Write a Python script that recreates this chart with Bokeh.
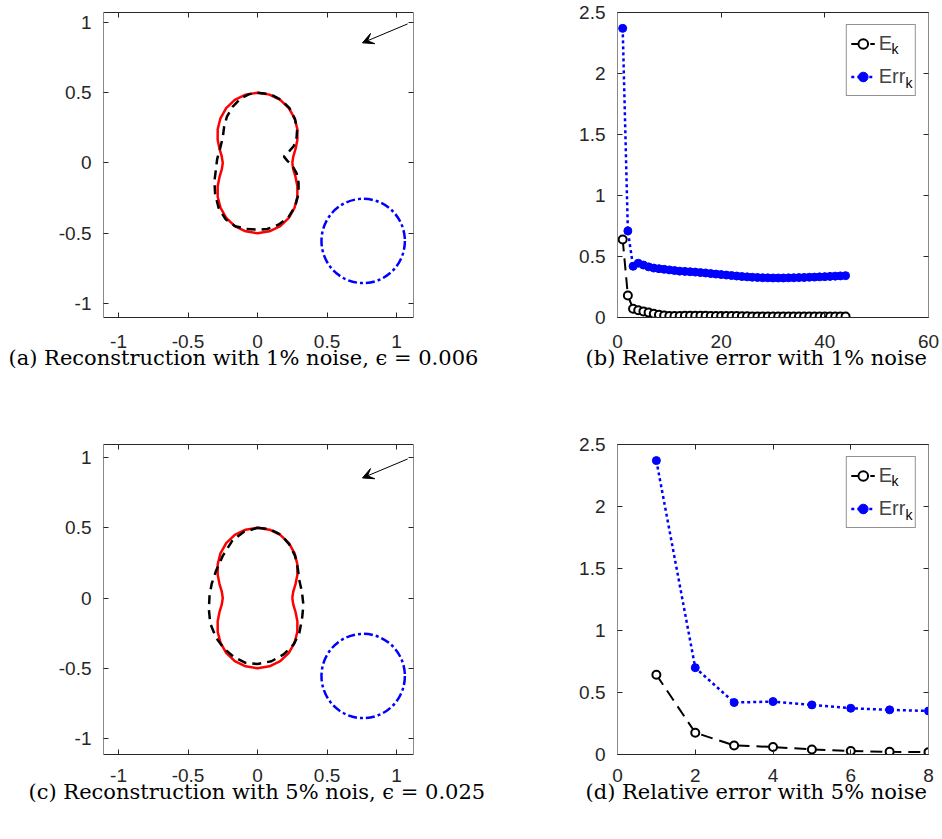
import math
from bokeh.plotting import figure
from bokeh.layouts import column, row
from bokeh.models import (Range1d, FixedTicker, LinearAxis, Arrow, VeeHead,
                          Legend, LegendItem, Label)
from bokeh.embed import file_html
from bokeh.resources import INLINE

# ---------------- data ----------------
# true obstacle (peanut), polar radius every 10 degrees
theta_deg = list(range(0, 360, 10))
true_r = [0.250, 0.261, 0.291, 0.331, 0.374, 0.415, 0.451, 0.478, 0.494, 0.500,
          0.494, 0.478, 0.451, 0.415, 0.374, 0.331, 0.291, 0.261, 0.250,
          0.261, 0.291, 0.331, 0.374, 0.415, 0.451, 0.478, 0.494, 0.500,
          0.494, 0.478, 0.451, 0.415, 0.374, 0.331, 0.291, 0.261]

# reconstruction, 1% noise
recon1_x = [0.00, 0.09, 0.17, 0.23, 0.27, 0.285, 0.28, 0.26, 0.225, 0.19, 0.215, 0.25,
            0.28, 0.295, 0.295, 0.27, 0.22, 0.15, 0.07, 0.00, -0.08, -0.16, -0.23,
            -0.28, -0.305, -0.31, -0.30, -0.29, -0.27, -0.25, -0.24, -0.22, -0.18,
            -0.12, -0.06, 0.00]
recon1_y = [0.50, 0.49, 0.45, 0.39, 0.31, 0.24, 0.17, 0.12, 0.08, 0.045, 0.015, -0.02,
            -0.07, -0.14, -0.22, -0.31, -0.39, -0.44, -0.47, -0.475, -0.47, -0.45,
            -0.40, -0.32, -0.22, -0.13, -0.05, 0.03, 0.10, 0.18, 0.26, 0.33, 0.40,
            0.46, 0.49, 0.50]

# reconstruction, 5% noise
recon5_x = [0.00, 0.09, 0.17, 0.23, 0.27, 0.29, 0.30, 0.32, 0.33, 0.32, 0.30, 0.26,
            0.19, 0.10, 0.00, -0.09, -0.17, -0.24, -0.30, -0.34, -0.35, -0.345, -0.33,
            -0.30, -0.25, -0.18, -0.10, 0.00]
recon5_y = [0.50, 0.49, 0.45, 0.38, 0.30, 0.21, 0.13, 0.04, -0.05, -0.15, -0.25, -0.33,
            -0.40, -0.45, -0.47, -0.46, -0.42, -0.36, -0.28, -0.18, -0.08, 0.02, 0.10,
            0.19, 0.30, 0.41, 0.47, 0.50]

# second (known) circular obstacle
circle_cx = [0.76]
circle_cy = [-0.555]
circle_d = [0.60]

# incident direction arrow (tail -> head)
arrow_tail = [1.08, 0.99]
arrow_head = [0.755, 0.855]

# relative errors, 1% noise
k1 = list(range(1, 45))
E1 = [0.64, 0.18, 0.072, 0.06, 0.05, 0.04, 0.03, 0.022, 0.016, 0.013, 0.013, 0.013,
      0.014, 0.014, 0.014, 0.014, 0.014, 0.013, 0.013, 0.013, 0.012, 0.012, 0.012,
      0.011, 0.011, 0.009, 0.009, 0.009, 0.009, 0.009, 0.008, 0.008, 0.008, 0.008,
      0.008, 0.008, 0.008, 0.008, 0.008, 0.008, 0.008, 0.008, 0.008, 0.008]
Err1 = [2.37, 0.71, 0.42, 0.445, 0.43, 0.415, 0.405, 0.40, 0.395, 0.39, 0.385, 0.38,
        0.378, 0.375, 0.372, 0.368, 0.365, 0.36, 0.356, 0.352, 0.348, 0.344, 0.34,
        0.336, 0.333, 0.33, 0.328, 0.326, 0.325, 0.324, 0.324, 0.324, 0.325, 0.326,
        0.327, 0.328, 0.33, 0.331, 0.333, 0.335, 0.337, 0.339, 0.341, 0.343]

# relative errors, 5% noise
k5 = [1, 2, 3, 4, 5, 6, 7, 8]
E5 = [0.643, 0.176, 0.073, 0.06, 0.041, 0.028, 0.022, 0.019]
Err5 = [2.37, 0.70, 0.419, 0.427, 0.40, 0.373, 0.36, 0.351]

# ticks
xy_ticks = [-1, -0.5, 0, 0.5, 1]
xy_labels = ["-1", "-0.5", "0", "0.5", "1"]
err_yticks = [0, 0.5, 1, 1.5, 2, 2.5]
err_ylabels = ["0", "0.5", "1", "1.5", "2", "2.5"]
k1_ticks = [0, 20, 40, 60]
k1_labels = ["0", "20", "40", "60"]
k5_ticks = [0, 2, 4, 6, 8]
k5_labels = ["0", "2", "4", "6", "8"]

captions = ["(a) Reconstruction with 1% noise, \u03f5 = 0.006",
            "(b) Relative error with 1% noise",
            "(c) Reconstruction with 5% nois, \u03f5 = 0.025",
            "(d) Relative error with 5% noise"]

# ---------------- styling helpers ----------------
TICK_FONT = "Liberation Sans"
CAP_FONT = "DejaVu Serif"


def style(p, xt, xl, yt, yl, xstand):
    p.grid.visible = False
    p.outline_line_color = None
    p.background_fill_color = "white"
    top = LinearAxis()
    rgt = LinearAxis()
    p.add_layout(top, "above")
    p.add_layout(rgt, "right")
    for ax in list(p.xaxis) + list(p.yaxis):
        ax.major_tick_in = 5
        ax.major_tick_out = 0
        ax.minor_tick_line_color = None
        ax.major_tick_line_color = "#262626"
        ax.major_label_text_font = TICK_FONT
        ax.major_label_text_font_size = "19px"
        ax.major_label_text_color = "#262626"
    for ax in p.xaxis:
        ax.ticker = FixedTicker(ticks=xt)
        ax.major_label_overrides = {t: s for t, s in zip(xt, xl)}
        ax.axis_line_color = "#262626"
    for ax in p.yaxis:
        ax.ticker = FixedTicker(ticks=yt)
        ax.major_label_overrides = {t: s for t, s in zip(yt, yl)}
        ax.axis_line_color = "#8a8a8a"
    for ax in (top, rgt):
        ax.major_label_text_font_size = "0px"
        ax.major_label_standoff = 0
    p.below[0].major_label_standoff = xstand
    p.left[0].major_label_standoff = 12
    p.title.align = "left"
    p.title.text_font = CAP_FONT
    p.title.text_font_size = "21px"
    p.title.text_font_style = "normal"
    p.title.text_color = "black"


def cap_panel(caption, width, height, lb, rb, tb, bb, xr, yr, offset, standoff):
    p = figure(width=width, height=height, x_range=xr, y_range=yr,
               min_border_left=lb, min_border_right=rb, min_border_top=tb,
               min_border_bottom=bb, output_backend="svg", toolbar_location=None,
               title=caption, title_location="below")
    p.title.offset = offset
    p.title.standoff = standoff
    return p


def shape_panel(p, rx, ry, xstand):
    rr = true_r + true_r[:1]
    tt = theta_deg + [360]
    tx = [r * math.cos(math.radians(t)) for r, t in zip(rr, tt)]
    ty = [r * math.sin(math.radians(t)) for r, t in zip(rr, tt)]
    p.line(tx, ty, line_color="#ff0000", line_width=2.5)
    p.line(rx, ry, line_color="black", line_width=2.5, line_dash="9 6")
    p.ellipse(x=circle_cx, y=circle_cy, width=circle_d, height=circle_d,
              fill_color=None, line_color="#0000ff", line_width=2.5,
              line_dash="9 3 3 3")
    p.add_layout(Arrow(x_start=arrow_tail[0], y_start=arrow_tail[1],
                       x_end=arrow_head[0], y_end=arrow_head[1],
                       line_color="black", line_width=1,
                       end=VeeHead(size=11, fill_color="black", line_color="black",
                                   line_width=1)))
    style(p, xy_ticks, xy_labels, xy_ticks, xy_labels, xstand)


def err_panel(p, k, E, Err, xt, xl, xmax, fw, fh, xstand):
    lE = p.line(k, E, line_color="black", line_width=2, line_dash="12 7")
    sE = p.scatter(k, E, marker="circle", size=8, fill_color="white",
                   line_color="black", line_width=2)
    lR = p.line(k, Err, line_color="#0000ff", line_width=2.5, line_dash="3 3")
    sR = p.scatter(k, Err, marker="circle", size=8, fill_color="#0000ff",
                   line_color="#0000ff")
    leg = Legend(items=[LegendItem(label="E", renderers=[lE, sE]),
                        LegendItem(label="Err ", renderers=[lR, sR])],
                 location="top_right", margin=12, padding=4, spacing=4,
                 glyph_width=24, glyph_height=29, label_height=29,
                 label_standoff=4, label_text_font=TICK_FONT,
                 label_text_font_size="20px", border_line_color="#262626",
                 border_line_width=1, background_fill_color="white",
                 background_fill_alpha=0.0)
    p.add_layout(leg)
    # subscripts k (frame-relative pixel offsets converted to data units)
    for xf, yf in ((274.0, 36.0), (288.0, 70.5)):
        p.add_layout(Label(x=xf / fw * xmax, y=2.5 - yf / fh * 2.5, text="k",
                           text_font=TICK_FONT, text_font_size="14px",
                           text_baseline="middle", text_align="left",
                           text_color="black", level="overlay"))
    style(p, xt, xl, err_yticks, err_ylabels, xstand)


pa = cap_panel(captions[0], 490, 420, 103, 77, 12, 103,
               Range1d(-1.108, 1.122), Range1d(-1.10, 1.071), -95, -14)
shape_panel(pa, recon1_x, recon1_y, 17)

pb = cap_panel(captions[1], 450, 420, 127, 12, 12, 103,
               Range1d(0, 60), Range1d(0, 2.5), -32, -14)
err_panel(pb, k1, E1, Err1, k1_ticks, k1_labels, 60, 311, 305, 17)

pc = cap_panel(captions[2], 490, 394, 103, 77, 24, 60,
               Range1d(-1.108, 1.122), Range1d(-1.114, 1.093), -75, -14)
shape_panel(pc, recon5_x, recon5_y, 14)

pd = cap_panel(captions[3], 450, 394, 127, 12, 24, 60,
               Range1d(0, 8), Range1d(0, 2.5), -32, -14)
err_panel(pd, k5, E5, Err5, k5_ticks, k5_labels, 8, 311, 310, 14)

layout = column(row(pa, pb), row(pc, pd))
open("out.html", "w").write(file_html(layout, INLINE))
